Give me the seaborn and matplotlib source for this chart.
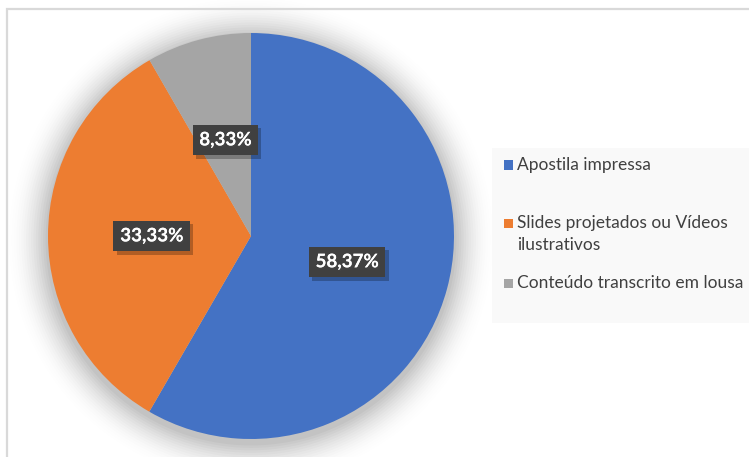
import numpy as np
import matplotlib
matplotlib.use("Agg")
import matplotlib.pyplot as plt
import matplotlib.patheffects as pe
from matplotlib.patches import Rectangle, Circle
import seaborn as sns

categories = ["Apostila impressa", "Slides projetados ou Vídeos\nilustrativos",
              "Conteúdo transcrito em lousa"]
values = [58.37, 33.33, 8.33]
colors = ["#4472C4", "#ED7D31", "#A5A5A5"]

sns.set_theme(style="white")
plt.rcParams["font.family"] = ["Lato", "DejaVu Sans"]

W, H = 749, 457
fig = plt.figure(figsize=(W / 100, H / 100), dpi=100)
fig.patch.set_facecolor("white")

# outer chart frame (runs off the right and bottom edges)
fig.patches.append(Rectangle((7 / W, -0.1), 1.2, 1 - 9 / H + 0.1,
                             transform=fig.transFigure, fill=False,
                             edgecolor="#D9D9D9", linewidth=1.6, zorder=0))

# pie axes: center (251, 236) px, radius 203 px
R = 203
cx, cy = 251, 236
ax = fig.add_axes([(cx - R) / W, (H - cy - R) / H, 2 * R / W, 2 * R / H])
ax.axis("off")

wedges, _ = ax.pie(values, colors=colors, startangle=90, counterclock=False,
                   radius=1.0, normalize=True,
                   wedgeprops=dict(linewidth=0, zorder=2))
ax.set_xlim(-1, 1)
ax.set_ylim(-1, 1)
ax.set_aspect("equal")

# soft glow shadow behind the pie
for i, a in enumerate(np.linspace(0.045, 0.004, 16)):
    ax.add_patch(Circle((0.0, -0.02), 1.0 + 0.012 * (i + 1), color="black",
                        alpha=a * 0.6, lw=0, zorder=0, clip_on=False))

for w, v in zip(wedges, values):
    mid = np.deg2rad((w.theta1 + w.theta2) / 2)
    r = 0.49
    t = ax.text(r * np.cos(mid), r * np.sin(mid),
                f"{v:.2f}%".replace(".", ","), ha="center", va="center",
                color="white", fontsize=13.5, fontweight="bold", zorder=5,
                bbox=dict(boxstyle="square,pad=0.36", facecolor="#404040",
                          edgecolor="none"),
                path_effects=[pe.withSimplePatchShadow(offset=(1, -1),
                                                       alpha=0.3), pe.Normal()])
    t.get_bbox_patch().set_path_effects(
        [pe.withSimplePatchShadow(offset=(2.5, -2.5), shadow_rgbFace="black",
                                  alpha=0.25), pe.Normal()])

# legend panel
fig.patches.append(Rectangle((492 / W, (H - 323) / H), 0.5, (323 - 148) / H,
                             transform=fig.transFigure, facecolor="#F9F9F9",
                             edgecolor="none", zorder=1))
legend_y = [165, 234, 283]
for lab, col, y in zip(categories, colors, legend_y):
    lines = lab.split("\n")
    y_first = y - (len(lines) - 1) * 11
    fig.patches.append(Rectangle((504 / W, (H - y_first - 4.5) / H), 9 / W, 9 / H,
                                 transform=fig.transFigure, facecolor=col,
                                 edgecolor="none", zorder=2))
    fig.text(517 / W, (H - y) / H, lab, ha="left", va="center",
             fontsize=12.5, color="#404040", linespacing=1.45, zorder=3)

fig.savefig("out.png", dpi=100)
